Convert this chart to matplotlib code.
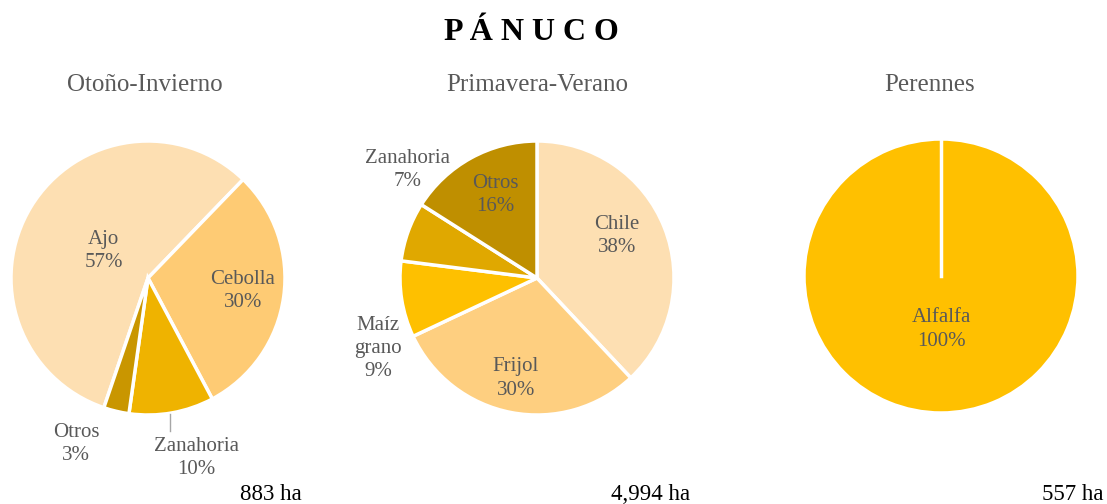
import numpy as np
import matplotlib
matplotlib.use('Agg')
from matplotlib import pyplot as plt

plt.rcParams['font.family'] = ['Liberation Serif', 'DejaVu Serif']

# Datos
titulo = 'P Á N U C O'
ciclos = ['Otoño-Invierno', 'Primavera-Verano', 'Perennes']
superficies = ['883 ha', '4,994 ha', '557 ha']

oi_cultivos = ['Ajo', 'Cebolla', 'Zanahoria', 'Otros']
oi_pct = [57, 30, 10, 3]
pv_cultivos = ['Chile', 'Frijol', 'Maíz\ngrano', 'Zanahoria', 'Otros']
pv_pct = [38, 30, 9, 7, 16]
per_cultivos = ['Alfalfa']
per_pct = [100]

# Estilo
oi_colores = ['#FDDFB2', '#FECB74', '#EFB300', '#C99600']
pv_colores = ['#FDDFB2', '#FECF80', '#FEC000', '#E0A800', '#BF8F00']
per_colores = ['#FFC000']
gris = '#595959'

W, H = 1107, 504
R = 137
fig = plt.figure(figsize=(W / 100, H / 100), dpi=100)


def pastel(cx, cy, valores, nombres, colores, inicio, dist, giro, guia=None):
    ax = fig.add_axes([(cx - R) / W, (H - cy - R) / H, 2 * R / W, 2 * R / H])
    cunas, _ = ax.pie(valores, colors=colores, startangle=inicio, counterclock=False,
                      radius=1, wedgeprops=dict(edgecolor='white', linewidth=2.5))
    ax.set_xlim(-1, 1)
    ax.set_ylim(-1, 1)
    ax.set_aspect('equal')
    ax.axis('off')
    for i, c in enumerate(cunas):
        ang = np.deg2rad((c.theta1 + c.theta2) / 2 + giro[i])
        x, y = dist[i] * np.cos(ang), dist[i] * np.sin(ang)
        ax.text(x, y, f'{nombres[i]}\n{valores[i]}%', ha='center', va='center',
                fontsize=15, color=gris, linespacing=1.3)
        if guia is not None and guia[i]:
            a0 = np.deg2rad((c.theta1 + c.theta2) / 2)
            xg = 0.97 * np.cos(a0) - 0.01
            ax.plot([xg, xg], [-0.99, -1.12], color='#A6A6A6', lw=1, clip_on=False)
    return ax, cunas


# Otoño-Invierno
ax1, c1 = pastel(148, 278, oi_pct, oi_cultivos, oi_colores, 251.2,
                 [0.38, 0.70, 1.36, 1.32], [0, 0, 5, -10], guia=[False, False, True, False])

# Primavera-Verano
ax2, c2 = pastel(537, 278, pv_pct, pv_cultivos, pv_colores, 90,
                 [0.66, 0.75, 1.27, 1.23, 0.68], [6, -1, 15, -20, -2])

# Perennes
ax3, c3 = pastel(941, 276, per_pct, per_cultivos, per_colores, 90, [0.39], [0])
ax3.plot([0, 0], [0, 1], color='white', lw=2.5)

fig.text(531 / W, 1 - 32 / H, titulo, ha='center', va='center', fontsize=23,
         fontweight='bold', color='black')
for x, c in zip([145, 537, 930], ciclos):
    fig.text(x / W, 1 - 85 / H, c, ha='center', va='center', fontsize=18, color=gris)
for x, s in zip([302, 690, 1104], superficies):
    fig.text(x / W, 1 - 494 / H, s, ha='right', va='center', fontsize=16.5, color='black')

fig.savefig('out.png', dpi=100, facecolor='white')
